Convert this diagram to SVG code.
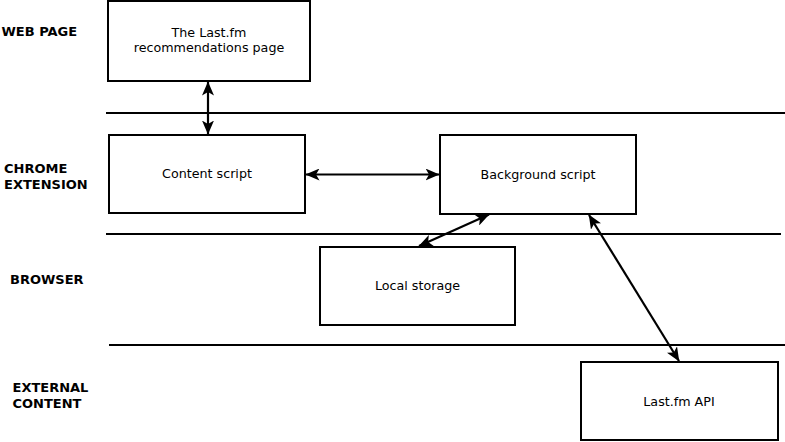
<svg xmlns="http://www.w3.org/2000/svg" width="785" height="442" viewBox="0 0 785 442">
<style>
.box{fill:#fff;stroke:#000;stroke-width:2}
.sep{stroke:#000;stroke-width:2}
.lbl{font-family:"DejaVu Sans",sans-serif;font-size:13px;font-weight:bold;fill:#000}
.txt{font-family:"DejaVu Sans",sans-serif;font-size:12.7px;fill:#000;text-anchor:middle}
.conn{stroke:#000;stroke-width:2.2;fill:none;marker-start:url(#ah);marker-end:url(#ah)}
</style>
<defs>
<marker id="ah" viewBox="0 0 14 12" refX="13.5" refY="6" markerWidth="14" markerHeight="12" markerUnits="userSpaceOnUse" orient="auto-start-reverse">
<path d="M0,0 L14,6 L0,12 L3.5,6 Z" fill="#000"/>
</marker>
</defs>
<rect width="785" height="442" fill="#fff"/>
<g id="lanes">
<line class="sep" x1="106" y1="113" x2="785" y2="113"/>
<line class="sep" x1="106" y1="234" x2="781" y2="234"/>
<line class="sep" x1="109" y1="345" x2="785" y2="345"/>
<text class="lbl" x="1.5" y="36">WEB PAGE</text>
<text class="lbl" x="4" y="173">CHROME</text>
<text class="lbl" x="4" y="189">EXTENSION</text>
<text class="lbl" x="10" y="284">BROWSER</text>
<text class="lbl" x="12.5" y="392">EXTERNAL</text>
<text class="lbl" x="12.5" y="408">CONTENT</text>
</g>
<g id="webpage">
<rect class="box" x="108" y="1" width="202" height="80"/>
<text class="txt" x="209" y="37">The Last.fm</text>
<text class="txt" x="209" y="52">recommendations page</text>
</g>
<g id="contentscript">
<rect class="box" x="109" y="135" width="196" height="78"/>
<text class="txt" x="207" y="178">Content script</text>
</g>
<g id="backgroundscript">
<rect class="box" x="440" y="135" width="196" height="79"/>
<text class="txt" x="538" y="179">Background script</text>
</g>
<g id="localstorage">
<rect class="box" x="320" y="247" width="195" height="78"/>
<text class="txt" x="417.5" y="290">Local storage</text>
</g>
<g id="lastfmapi">
<rect class="box" x="581" y="362" width="197" height="78"/>
<text class="txt" x="679" y="406">Last.fm API</text>
</g>
<g id="connectors">
<line class="conn" x1="208" y1="82" x2="208" y2="134"/>
<line class="conn" x1="306" y1="174.5" x2="439" y2="174.5"/>
<line class="conn" x1="489" y1="214.5" x2="419" y2="246"/>
<line class="conn" x1="589" y1="215" x2="679" y2="361"/>
</g>
</svg>
